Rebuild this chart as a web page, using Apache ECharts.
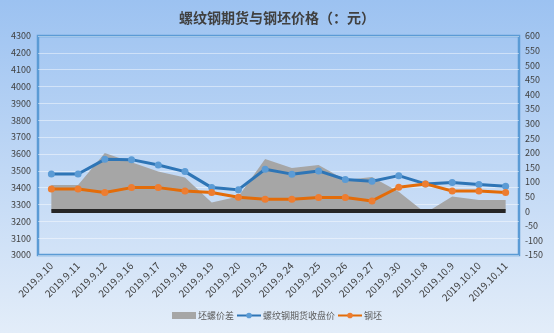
<!DOCTYPE html>
<html><head><meta charset="utf-8">
<script src="https://cdn.jsdelivr.net/npm/echarts@6/dist/echarts.min.js"></script>
<style>html,body{margin:0;padding:0;}#c{width:554px;height:333px;}</style>
</head><body><div id="c"></div>
<script>
var categories = ['2019.9.10','2019.9.11','2019.9.12','2019.9.16','2019.9.17','2019.9.18','2019.9.19','2019.9.20','2019.9.23','2019.9.24','2019.9.25','2019.9.26','2019.9.27','2019.9.30','2019.10.8','2019.10.9','2019.10.10','2019.10.11'];
var spread = [90, 90, 199, 168, 136, 115, 30, 50, 179, 148, 158, 107, 117, 67, -6, 50, 38, 38];
var futures = [3481, 3481, 3568, 3566, 3534, 3495, 3400, 3388, 3509, 3480, 3499, 3448, 3438, 3471, 3422, 3430, 3418, 3408];
var billet = [3392, 3392, 3371, 3400, 3400, 3380, 3371, 3343, 3331, 3331, 3341, 3341, 3321, 3402, 3422, 3380, 3380, 3371];
var names = ['坯螺价差', '螺纹钢期货收盘价', '钢坯'];

var chart = echarts.init(document.getElementById('c'));
var font = '"Noto Sans CJK SC", "Liberation Sans", sans-serif';
chart.setOption({
  backgroundColor: {type:'linear', x:0, y:0, x2:0, y2:1, colorStops:[{offset:0, color:'#9cc2f1'},{offset:1, color:'#e3edf9'}]},
  textStyle: {fontFamily: font},
  title: {text:'螺纹钢期货与钢坯价格（：元）', left:'center', top:6,
    textStyle:{fontSize:14, fontWeight:'bold', color:'#404040', fontFamily: font}},
  legend: {bottom:8, left:'center', itemGap:2, itemWidth:24, itemHeight:7,
    textStyle:{fontSize:9, color:'#595959', fontFamily: font, padding:[0,0,0,-3]},
    data:[{name:names[0], icon:'rect', itemStyle:{color:'#a6a6a6'}}, names[1], names[2]]},
  grid: {left:38, right:35, top:36, bottom:78, show:true, borderColor:'#5b9bd5', borderWidth:2.5, backgroundColor:'transparent'},
  xAxis: {type:'category', data:categories, boundaryGap:true,
    axisLine:{show:false}, axisTick:{show:false},
    axisLabel:{rotate:45, fontSize:10, color:'#404040', margin:9, interval:0}},
  yAxis: [
    {type:'value', min:3000, max:4300, interval:100, position:'left',
      axisLine:{show:false}, axisTick:{show:false},
      axisLabel:{fontSize:9, color:'#404040', margin:7, formatter:function(v){return String(v);}},
      splitLine:{lineStyle:{color:'rgba(255,255,255,0.45)', width:1}}},
    {type:'value', min:-150, max:600, interval:50, position:'right',
      axisLine:{show:false}, axisTick:{show:false},
      axisLabel:{fontSize:9, color:'#404040', margin:6, formatter:function(v){return String(v);}},
      splitLine:{show:false}}
  ],
  series: [
    {name:names[0], type:'line', yAxisIndex:1, data:spread, symbol:'none',
      lineStyle:{width:0}, itemStyle:{color:'#a6a6a6'},
      areaStyle:{color:'#a6a6a6', opacity:1, origin:0}, z:1,
      markLine:{silent:true, symbol:'none', label:{show:false},
        lineStyle:{color:'#262626', width:4, type:'solid'},
        data:[[{coord:[categories[0], 0]}, {coord:[categories[categories.length-1], 0]}]]}},
    {name:names[1], type:'line', data:futures, symbol:'circle', symbolSize:7,
      lineStyle:{color:'#2e75b6', width:3}, itemStyle:{color:'#5b9bd5'}, z:3},
    {name:names[2], type:'line', data:billet, symbol:'circle', symbolSize:7,
      lineStyle:{color:'#e36c09', width:3}, itemStyle:{color:'#ed7d31'}, z:4}
  ]
});
</script></body></html>
